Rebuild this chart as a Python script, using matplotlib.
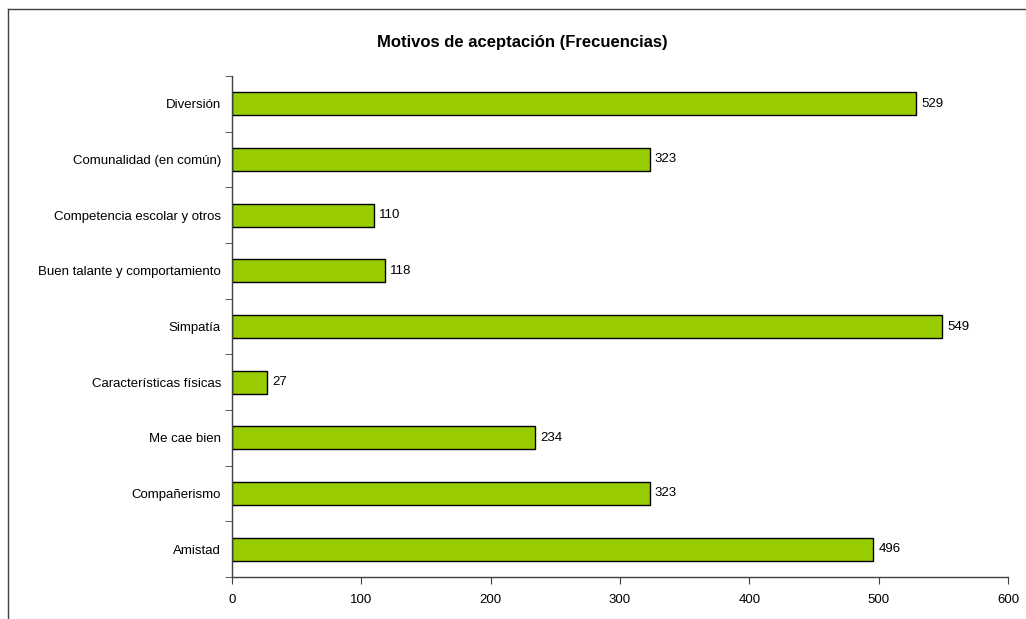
import matplotlib
matplotlib.use("Agg")
import matplotlib.pyplot as plt
from matplotlib.lines import Line2D
import numpy as np

plt.rcParams['font.family'] = ['Liberation Sans', 'DejaVu Sans']

# motivos, de abajo hacia arriba
motivos = ['Amistad', 'Compañerismo', 'Me cae bien', 'Características físicas',
           'Simpatía', 'Buen talante y comportamiento', 'Competencia escolar y otros',
           'Comunalidad (en común)', 'Diversión']
frecuencias = [496, 323, 234, 27, 549, 118, 110, 323, 529]
ticks_x = [0, 100, 200, 300, 400, 500, 600]

fig = plt.figure(figsize=(10.26, 6.19), dpi=100)
ax = fig.add_axes([232 / 1026, 1 - 577 / 619, 776 / 1026, 501 / 619])

y = np.arange(len(motivos))
barras = ax.barh(y, frecuencias, height=0.41, color='#99CC00',
                 edgecolor='black', linewidth=1)

for yi, v in zip(y, frecuencias):
    ax.text(v + 4, yi, str(v), va='center', ha='left', fontsize=9.5)

ax.set_xlim(0, 600)
ax.set_ylim(-0.5, len(motivos) - 0.5)
ax.set_xticks(ticks_x)
ax.set_xticklabels([str(t) for t in ticks_x], fontsize=9.5)

# etiquetas en el centro, marcas en los limites de cada categoria
ax.set_yticks(y)
ax.set_yticklabels(motivos, fontsize=9.5)
ax.tick_params(axis='y', length=0, pad=8)
ax.set_yticks(np.arange(len(motivos) + 1) - 0.5, minor=True)
ax.tick_params(axis='y', which='minor', length=5, color='#404040', direction='out')
ax.tick_params(axis='x', length=5, color='#404040', direction='out', pad=7)

for s in ['top', 'right']:
    ax.spines[s].set_visible(False)
for s in ['left', 'bottom']:
    ax.spines[s].set_color('#404040')
    ax.spines[s].set_linewidth(1)

fig.text(522 / 1026, 1 - 42 / 619, 'Motivos de aceptación (Frecuencias)',
         ha='center', va='center', fontsize=12, fontweight='bold')

# marco del grafico
fig.add_artist(Line2D([7.5 / 1026, 7.5 / 1026], [0, 1 - 8.5 / 619],
                      transform=fig.transFigure, color='#404040', lw=1))
fig.add_artist(Line2D([7.5 / 1026, 1], [1 - 8.5 / 619, 1 - 8.5 / 619],
                      transform=fig.transFigure, color='#404040', lw=1))

fig.savefig('out.png', dpi=100)
